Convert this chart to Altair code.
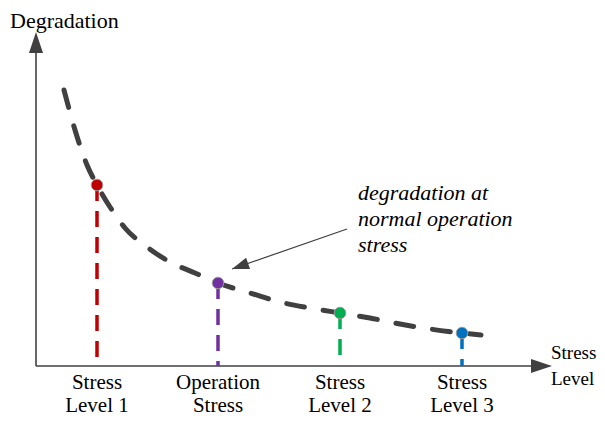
import math
import altair as alt
import pandas as pd

# Conceptual diagram units: origin at the corner of the two axes (1 unit = 1 px)
curve_x = [28, 39, 51, 61, 74, 89, 111, 134, 159, 182, 214, 244, 274, 304, 334, 364, 394, 426, 445]
curve_y = [276, 236, 201, 181, 159, 138, 119, 104, 93, 83, 73, 64, 58, 53, 48, 42, 37, 33, 31]

levels = ["Stress\nLevel 1", "Operation\nStress", "Stress\nLevel 2", "Stress\nLevel 3"]
level_x = [61, 182, 304, 426]
level_y = [181, 83, 53, 33]
level_colors = ["#c00000", "#7030a0", "#00b050", "#0070c0"]

x_axis_end = 516
y_axis_end = 334
x_title = "Stress\nLevel"
y_title = "Degradation"

note_text = "degradation at\nnormal operation\nstress"
note_pos = [322, 173]
arrow_from = [311, 137]
arrow_to = [196, 97]

FONT = "Liberation Serif, Times New Roman, DejaVu Serif, serif"
AX = "#404040"

xs = alt.Scale(domain=[-28, 561], nice=False, zero=False)
ys = alt.Scale(domain=[-50, 358], nice=False, zero=False)

curve = pd.DataFrame({"x": curve_x, "y": curve_y})
pts = pd.DataFrame({"level": levels, "x": level_x, "y": level_y, "y0": [0] * 4})

X = lambda f: alt.X(f, type="quantitative", scale=xs, axis=None)
Y = lambda f: alt.Y(f, type="quantitative", scale=ys, axis=None)
col = alt.Color("level:N", scale=alt.Scale(domain=levels, range=level_colors), legend=None)

axes_df = pd.DataFrame({"x": [0, 0], "y": [0, 0], "x2": [0, x_axis_end - 16], "y2": [y_axis_end - 16, 0]})
axes = alt.Chart(axes_df).mark_rule(color=AX, strokeWidth=1.6).encode(
    x=X("x"), y=Y("y"), x2="x2", y2="y2")

yhead = alt.Chart(pd.DataFrame({"x": [0], "y": [y_axis_end]})).mark_point(
    shape="M0,0L-0.667,2L0.667,2Z", size=441, filled=True, fill=AX, strokeWidth=0, opacity=1
).encode(x=X("x"), y=Y("y"))
xhead = alt.Chart(pd.DataFrame({"x": [x_axis_end], "y": [0]})).mark_point(
    shape="M0,0L-2,-0.667L-2,0.667Z", size=441, filled=True, fill=AX, strokeWidth=0, opacity=1
).encode(x=X("x"), y=Y("y"))

drops = alt.Chart(pts).mark_rule(strokeWidth=3.5, strokeDash=[16, 10]).encode(
    x=X("x"), y=Y("y"), y2="y0", color=col)

line = alt.Chart(curve).mark_line(
    color=AX, strokeWidth=5, strokeDash=[18, 19], strokeCap="round", interpolate="monotone"
).encode(x=X("x"), y=Y("y"))

dots = alt.Chart(pts).mark_point(filled=True, size=135, opacity=1, stroke="#9a9a9a", strokeWidth=1).encode(
    x=X("x"), y=Y("y"), fill=alt.Fill("level:N", scale=alt.Scale(domain=levels, range=level_colors), legend=None))

labels = alt.Chart(pts).mark_text(
    font=FONT, fontSize=21, color="black", align="center", baseline="middle",
    lineBreak="\n", lineHeight=23, dy=16.5
).encode(x=X("x"), y=Y("y0"), text="level:N")

xt = alt.Chart(pd.DataFrame({"x": [x_axis_end], "y": [0], "t": [x_title]})).mark_text(
    font=FONT, fontSize=19, color="black", align="left", baseline="middle",
    lineBreak="\n", lineHeight=26, dx=-1, dy=-13
).encode(x=X("x"), y=Y("y"), text="t:N")

yt = alt.Chart(pd.DataFrame({"x": [0], "y": [y_axis_end], "t": [y_title]})).mark_text(
    font=FONT, fontSize=22, color="black", align="left", baseline="middle", dx=-26, dy=-11
).encode(x=X("x"), y=Y("y"), text="t:N")

note = alt.Chart(pd.DataFrame({"x": [note_pos[0]], "y": [note_pos[1]], "t": [note_text]})).mark_text(
    font=FONT, fontSize=22, fontStyle="italic", color="black", align="left", baseline="middle",
    lineBreak="\n", lineHeight=26
).encode(x=X("x"), y=Y("y"), text="t:N")

arr_df = pd.DataFrame({"x": [arrow_from[0]], "y": [arrow_from[1]], "x2": [arrow_to[0]], "y2": [arrow_to[1]]})
arr_line = alt.Chart(arr_df).mark_rule(color=AX, strokeWidth=1.2).encode(
    x=X("x"), y=Y("y"), x2="x2", y2="y2")
ang = math.degrees(math.atan2(-(arrow_to[1] - arrow_from[1]), arrow_to[0] - arrow_from[0])) % 360
arr_head = alt.Chart(pd.DataFrame({"x": [arrow_to[0]], "y": [arrow_to[1]]})).mark_point(
    shape="M0,0L-2,-0.7L-2,0.7Z", size=289, filled=True, fill=AX, strokeWidth=0, opacity=1, angle=ang
).encode(x=X("x"), y=Y("y"))

chart = alt.layer(
    axes, yhead, xhead, drops, line, dots, labels, xt, yt, note, arr_line, arr_head
).properties(
    width=589, height=408, autosize=alt.AutoSizeParams(type="none"), padding=0
).configure_view(stroke=None)

chart.save("out.html", embed_options={"renderer": "svg", "actions": False})
